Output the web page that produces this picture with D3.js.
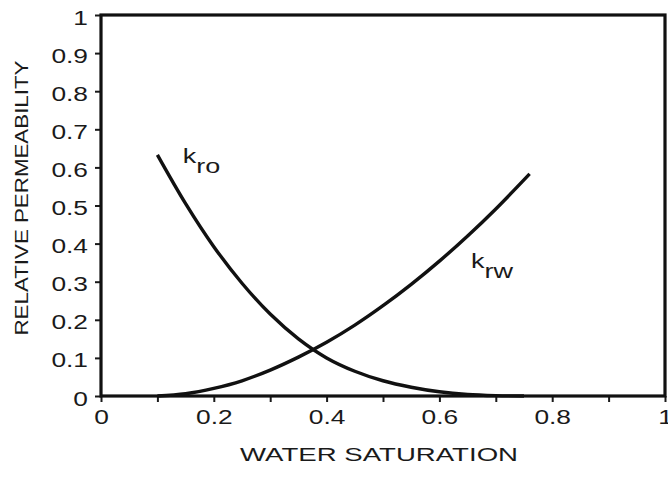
<!DOCTYPE html>
<html>
<head>
<meta charset="utf-8">
<script src="https://cdn.jsdelivr.net/npm/d3@7"></script>
<style>
  html, body { margin: 0; padding: 0; background: #fff; }
  svg { display: block; }
  text { font-family: "Liberation Sans", Arial, Helvetica, sans-serif; fill: #1a1a1a; }
</style>
</head>
<body>
<svg id="chart" width="668" height="482"></svg>
<script>
// ---- data ----
const swKro = [0.10, 0.15, 0.20, 0.25, 0.30, 0.35, 0.40, 0.45, 0.50, 0.55, 0.60, 0.65, 0.70, 0.75];
const kro   = [0.633, 0.505, 0.392, 0.296, 0.215, 0.150, 0.100, 0.065, 0.040, 0.023, 0.011, 0.004, 0.001, 0.0];
const swKrw = [0.10, 0.15, 0.20, 0.25, 0.30, 0.35, 0.40, 0.45, 0.50, 0.55, 0.60, 0.65, 0.70, 0.76];
const krw   = [0.0, 0.006, 0.02, 0.04, 0.068, 0.102, 0.141, 0.186, 0.237, 0.293, 0.354, 0.420, 0.491, 0.583];
const xTicks = [0, 0.1, 0.2, 0.3, 0.4, 0.5, 0.6, 0.7, 0.8, 0.9, 1];
const xTickLabels = [0, 0.2, 0.4, 0.6, 0.8, 1];
const yTicks = [0, 0.1, 0.2, 0.3, 0.4, 0.5, 0.6, 0.7, 0.8, 0.9, 1];
const curveLabels = [
  { main: "k", sub: "ro", sw: 0.145, k: 0.612 },
  { main: "k", sub: "rw", sw: 0.656, k: 0.336 }
];
const xTitle = "WATER SATURATION";
const yTitle = "RELATIVE PERMEABILITY";

// ---- layout ----
const svg = d3.select("#chart");
const W = 668, H = 482;
const margin = { left: 101, top: 15, right: 3, bottom: 86 };
const iw = W - margin.left - margin.right;
const ih = H - margin.top - margin.bottom;
const g = svg.append("g").attr("transform", `translate(${margin.left},${margin.top})`);

const x = d3.scaleLinear().domain([0, 1]).range([0, iw]);
const y = d3.scaleLinear().domain([0, 1]).range([ih, 0]);

const fmt = d => (d === 0 || d === 1) ? String(d) : d3.format(".1f")(d);

function stretch(sel, f) {
  sel.each(function () {
    const len = this.getComputedTextLength();
    d3.select(this).attr("textLength", len * f).attr("lengthAdjust", "spacingAndGlyphs");
  });
}

// x axis
const xAxis = g.append("g").attr("transform", `translate(0,${ih})`)
  .call(d3.axisBottom(x).tickValues(xTicks).tickSize(6)
    .tickFormat(d => xTickLabels.some(v => Math.abs(v - d) < 1e-9) ? fmt(d) : ""));
xAxis.select(".domain").remove();
xAxis.selectAll(".tick line").attr("stroke", "#1a1a1a").attr("stroke-width", 2);
xAxis.selectAll(".tick text").attr("font-size", 19.5).attr("y", 14).attr("dy", "0.71em").attr("fill", "#1a1a1a");
stretch(xAxis.selectAll(".tick text"), 1.35);

// y axis
const yAxis = g.append("g")
  .call(d3.axisLeft(y).tickValues(yTicks).tickSize(6).tickFormat(fmt));
yAxis.select(".domain").remove();
yAxis.selectAll(".tick line").attr("stroke", "#1a1a1a").attr("stroke-width", 2);
yAxis.selectAll(".tick text").attr("font-size", 19.5).attr("x", -13).attr("dy", "9px").attr("fill", "#1a1a1a");
stretch(yAxis.selectAll(".tick text"), 1.35);

// frame
g.append("rect").attr("x", 0).attr("y", 0).attr("width", iw).attr("height", ih)
  .attr("fill", "none").attr("stroke", "#111").attr("stroke-width", 3.2);

// curves
const line = d3.line().x(d => x(d[0])).y(d => y(d[1])).curve(d3.curveCatmullRom.alpha(0.5));
g.append("path").datum(swKro.map((s, i) => [s, kro[i]]))
  .attr("d", line).attr("fill", "none").attr("stroke", "#111").attr("stroke-width", 3.4);
g.append("path").datum(swKrw.map((s, i) => [s, krw[i]]))
  .attr("d", line).attr("fill", "none").attr("stroke", "#111").attr("stroke-width", 3.4);

// curve labels
curveLabels.forEach(l => {
  const t = g.append("text").attr("x", x(l.sw)).attr("y", y(l.k)).attr("font-size", 20);
  t.append("tspan").text(l.main);
  t.append("tspan").attr("dy", 10).text(l.sub);
  stretch(t, 1.35);
});

// axis titles
const xt = svg.append("text").attr("x", margin.left + iw * 0.493).attr("y", 461)
  .attr("text-anchor", "middle").attr("font-size", 18).text(xTitle);
xt.attr("textLength", 278).attr("lengthAdjust", "spacingAndGlyphs");

const yt = svg.append("text").attr("transform", `translate(28,${198}) rotate(-90)`)
  .attr("text-anchor", "middle").attr("font-size", 18).text(yTitle);
yt.attr("textLength", 275).attr("lengthAdjust", "spacingAndGlyphs");
</script>
</body>
</html>
